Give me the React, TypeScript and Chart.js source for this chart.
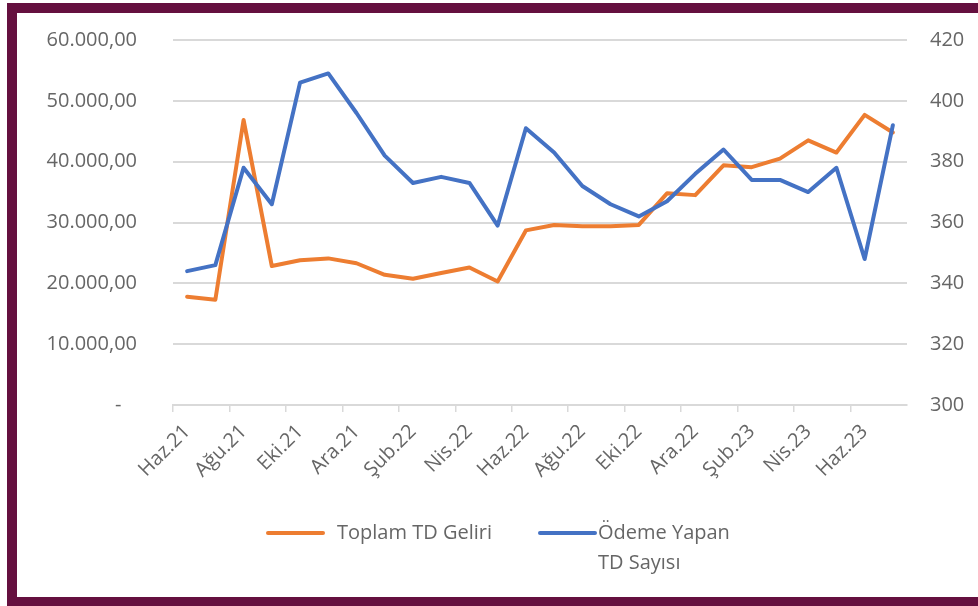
import React, { useEffect, useRef } from "react";
import { Chart, registerables } from "chart.js";

Chart.register(...registerables);

const categories = [
  "Haz.21", "Tem.21", "Ağu.21", "Eyl.21", "Eki.21", "Kas.21", "Ara.21",
  "Oca.22", "Şub.22", "Mar.22", "Nis.22", "May.22", "Haz.22", "Tem.22",
  "Ağu.22", "Eyl.22", "Eki.22", "Kas.22", "Ara.22", "Oca.23", "Şub.23",
  "Mar.23", "Nis.23", "May.23", "Haz.23", "Tem.23",
];

const toplamTdGeliri = [
  17800, 17300, 46850, 22850, 23800, 24100, 23300, 21400, 20750, 21700,
  22600, 20300, 28700, 29600, 29400, 29400, 29600, 34800, 34500, 39400,
  39100, 40500, 43500, 41500, 47700, 44800,
];

const odemeYapanTdSayisi = [
  344, 346, 378, 366, 406, 409, 396, 382, 373, 375, 373, 359, 391, 383,
  372, 366, 362, 367, 376, 384, 374, 374, 370, 378, 348, 392,
];

const leftAxis = { min: 0, max: 60000, step: 10000 };
const rightAxis = { min: 300, max: 420, step: 20 };

const legendLabels = [["Toplam TD Geliri"], ["Ödeme Yapan", "TD Sayısı"]];

const ORANGE = "#ED7D31";
const BLUE = "#4472C4";
const TEXT = "#666666";
const GRID = "#d9d9d9";
const FRAME = "#65103f";
const FONT = "'Open Sans', 'Liberation Sans', sans-serif";

function formatTR(v: number): string {
  if (v === 0) return "-   ";
  const s = Math.round(v).toString().replace(/\B(?=(\d{3})+(?!\d))/g, ".");
  return s + ",00";
}

const legendPlugin = {
  id: "customLegend",
  afterDraw(chart: any) {
    const ctx = chart.ctx;
    const items = [
      { color: ORANGE, x: 268, y: 533, lines: legendLabels[0], tx: 337 },
      { color: BLUE, x: 540, y: 533, lines: legendLabels[1], tx: 598 },
    ];
    ctx.save();
    ctx.font = `20px ${FONT}`;
    ctx.textBaseline = "middle";
    ctx.textAlign = "left";
    for (const it of items) {
      ctx.strokeStyle = it.color;
      ctx.lineWidth = 4;
      ctx.lineCap = "round";
      ctx.beginPath();
      ctx.moveTo(it.x, it.y);
      ctx.lineTo(it.x + 55, it.y);
      ctx.stroke();
      ctx.fillStyle = TEXT;
      it.lines.forEach((t: string, i: number) => {
        ctx.fillText(t, it.tx, it.y + i * 30);
      });
    }
    ctx.restore();
  },
};

export default function App() {
  const ref = useRef<HTMLCanvasElement | null>(null);

  useEffect(() => {
    if (!ref.current) return;
    const chart = new Chart(ref.current, {
      type: "line",
      data: {
        labels: categories,
        datasets: [
          {
            label: "Toplam TD Geliri",
            data: toplamTdGeliri,
            borderColor: ORANGE,
            backgroundColor: ORANGE,
            borderWidth: 4,
            pointRadius: 0,
            tension: 0,
            borderJoinStyle: "round",
            borderCapStyle: "round",
            yAxisID: "y",
            order: 1,
          },
          {
            label: "Ödeme Yapan TD Sayısı",
            data: odemeYapanTdSayisi,
            borderColor: BLUE,
            backgroundColor: BLUE,
            borderWidth: 4,
            pointRadius: 0,
            tension: 0,
            borderJoinStyle: "round",
            borderCapStyle: "round",
            yAxisID: "y1",
            order: 0,
          },
        ],
      },
      options: {
        responsive: false,
        animation: false,
        layout: { padding: { top: 40, left: 0, right: 0, bottom: 0 } },
        plugins: {
          legend: { display: false },
          tooltip: { enabled: false },
        },
        scales: {
          x: {
            type: "category",
            offset: true,
            grid: {
              offset: true,
              drawOnChartArea: false,
              drawTicks: true,
              tickLength: 7,
              lineWidth: 1.5,
              color: (c: any) => (c.index % 2 === 0 ? GRID : "rgba(0,0,0,0)"),
            },
            border: { display: true, color: GRID, width: 2 },
            ticks: {
              autoSkip: false,
              minRotation: 45,
              maxRotation: 45,
              padding: 8,
              color: TEXT,
              font: { family: FONT, size: 20 },
              callback: (_v: any, i: number) => (i % 2 === 0 ? categories[i] : ""),
            },
            afterFit: (s: any) => {
              s.height = 201;
            },
          },
          y: {
            position: "left",
            min: leftAxis.min,
            max: leftAxis.max,
            grid: { color: GRID, lineWidth: 2, drawTicks: false },
            border: { display: false },
            ticks: {
              stepSize: leftAxis.step,
              padding: 36,
              color: TEXT,
              font: { family: FONT, size: 20 },
              callback: (v: any) => formatTR(Number(v)),
            },
            afterFit: (s: any) => {
              s.width = 173;
              s.paddingTop = 0;
              s.paddingBottom = 0;
            },
          },
          y1: {
            position: "right",
            min: rightAxis.min,
            max: rightAxis.max,
            grid: { drawOnChartArea: false, drawTicks: false },
            border: { display: false },
            ticks: {
              stepSize: rightAxis.step,
              padding: 23,
              color: TEXT,
              font: { family: FONT, size: 20 },
            },
            afterFit: (s: any) => {
              s.width = 71;
              s.paddingTop = 0;
              s.paddingBottom = 0;
            },
          },
        },
      },
      plugins: [legendPlugin],
    } as any);
    return () => chart.destroy();
  }, []);

  return (
    <div style={{ position: "fixed", left: 0, top: 0, width: 978, height: 606, background: "#ffffff" }}>
      <div style={{ position: "absolute", left: 7, top: 3, width: 10, height: 603, background: FRAME }} />
      <div style={{ position: "absolute", left: 7, top: 3, width: 971, height: 10, background: FRAME }} />
      <div style={{ position: "absolute", left: 7, top: 597, width: 971, height: 9, background: FRAME }} />
      <canvas
        ref={ref}
        width={978}
        height={606}
        style={{ position: "absolute", left: 0, top: 0, width: 978, height: 606, display: "block" }}
      />
    </div>
  );
}
